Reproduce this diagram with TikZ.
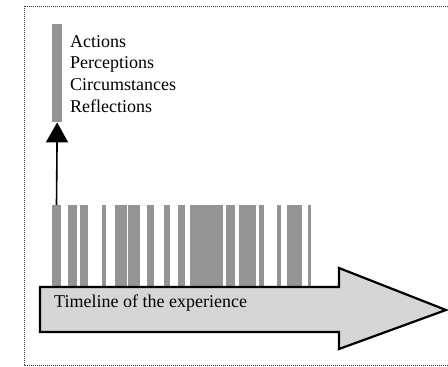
\documentclass[tikz,border=0pt]{standalone}
\usepackage{fontspec}
\setmainfont{Liberation Serif}
\usetikzlibrary{arrows.meta}
\definecolor{barfill}{gray}{0.58}
\definecolor{arrowfill}{gray}{0.84}
\begin{document}
\begin{tikzpicture}[x=1pt,y=-1pt,
  barbox/.style={fill=barfill, draw=none, inner sep=0pt, outer sep=0pt, anchor=north west, minimum height=82pt},
  frameline/.style={densely dotted, line width=1pt, black!80},
  bigarrow/.style={draw=black, line width=2.2pt, fill=arrowfill, line join=miter},
  labeltext/.style={font=\fontsize{18}{21.7}\selectfont, inner sep=0pt, anchor=base west},
  uparrow/.style={line width=1.6pt, -{Triangle[length=20pt,width=22pt]}}]
\useasboundingbox (0,0) rectangle (448,367);
% frame
\draw[frameline] (448,6) -- (24,6) -- (24,365) -- (448,365);
% upper column bar
\node[fill=barfill, inner sep=0pt, minimum width=10pt, minimum height=98pt, anchor=north west] (col) at (52,24) {};
% labels
\node[labeltext] (lab1) at (70,47) {Actions};
\node[labeltext] (lab2) at (70,68.7) {Perceptions};
\node[labeltext] (lab3) at (70,90.4) {Circumstances};
\node[labeltext] (lab4) at (70,112) {Reflections};
% bars
\node[barbox, minimum width=9pt] (b1) at (52,205) {};
\foreach \x/\w [count=\i from 2] in {68/9, 80/8, 102/4, 115/12, 128/12, 147/7, 164/6, 178/7, 190/33, 226/9, 239/17, 259/5, 277/4, 287/15, 308/3}
  \node[barbox, minimum width=\w pt] (b\i) at (\x,205) {};
% big arrow
\draw[bigarrow] (40,287) -- (339,287) -- (339,268) -- (446,310) -- (339,349) -- (339,332) -- (40,332) -- cycle;
\node[labeltext] (timeline) at (54,307) {Timeline of the experience};
% connector
\draw[uparrow] (b1.north) -- (col.south);
\end{tikzpicture}
\end{document}
